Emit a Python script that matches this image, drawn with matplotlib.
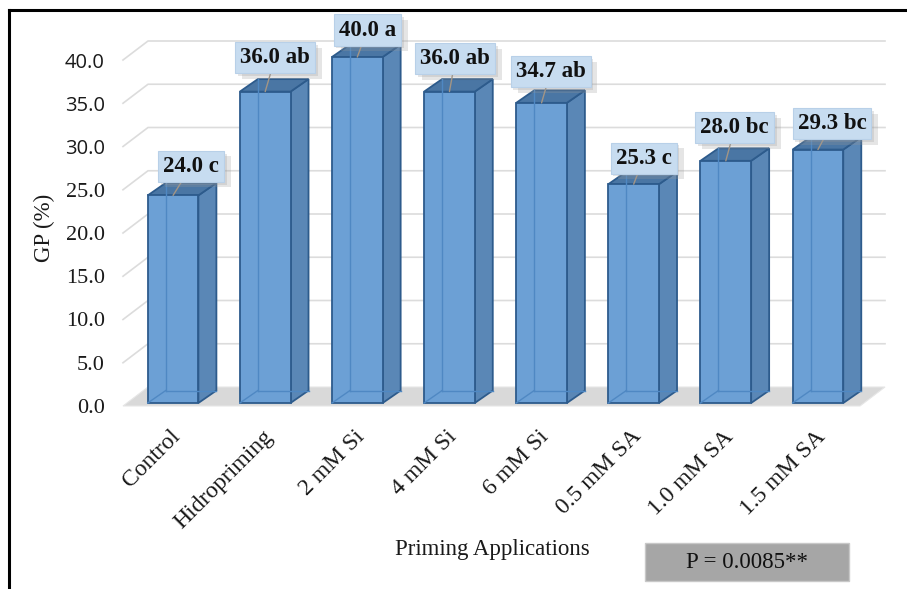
import matplotlib
matplotlib.use("Agg")
import matplotlib.pyplot as plt
import matplotlib.patheffects as pe
from matplotlib.patches import Polygon, Rectangle
from matplotlib.lines import Line2D
from matplotlib.transforms import ScaledTranslation
import numpy as np

# ---- data -------------------------------------------------------------
categories = ["Control", "Hidropriming", "2 mM Si", "4 mM Si", "6 mM Si",
              "0.5 mM SA", "1.0 mM SA", "1.5 mM SA"]
gp_values = [24.0, 36.0, 40.0, 36.0, 34.7, 25.3, 28.0, 29.3]
letters = ["c", "ab", "a", "ab", "ab", "c", "bc", "bc"]
y_ticks = [0, 5, 10, 15, 20, 25, 30, 35, 40]
p_text = "P = 0.0085**"

# ---- layout (pixels) --------------------------------------------------
W, H, DPI = 907, 589, 100
WALL = (25, 19)       # depth of floor / walls
BAR_SHIFT = (4, 3)    # bars sit slightly behind the front edge
BAR_DEPTH = (18, 12.5)
BAR_W = 0.55
label_dx = [18, 10, 10, 6, 9, 10, 9, 14]
label_dy = [29, 34, 27, 33, 31, 26, 33, 26]

SERIF = "Liberation Serif"
FRONT = "#6CA0D5"
SIDE = "#5A87B6"
TOP = "#4A76A4"
EDGE = "#2D5B8C"
INNER = "#4F88C3"
GRID = "#DCDCDC"
TEXT = "#1A1A1A"

fig = plt.figure(figsize=(W / DPI, H / DPI), dpi=DPI)
fig.patch.set_facecolor("white")
ax = fig.add_axes([123 / W, 1 - 406 / H, (860 - 123) / W, (406 - 60) / H])
ax.set_xlim(-0.5, 7.5)
ax.set_ylim(0, 40)
ax.set_facecolor("none")
for s in ax.spines.values():
    s.set_visible(False)


def shifted(x, y, dx=0.0, dy=0.0):
    """Data point moved by (dx, dy) display pixels, returned in data units."""
    p = ax.transData.transform((x, y)) + np.array([dx, dy])
    return ax.transData.inverted().transform(p)


# floor
floor = [shifted(-0.5, 0), shifted(7.5, 0),
         shifted(7.5, 0, *WALL), shifted(-0.5, 0, *WALL)]
ax.add_patch(Polygon(floor, closed=True, fc="#D9D9D9", ec="#E6E6E6", lw=0.8,
                     zorder=1, clip_on=False))

# gridlines on side wall and back wall
for t in y_ticks[1:]:
    a = shifted(-0.5, t)
    b = shifted(-0.5, t, *WALL)
    c = shifted(7.5, t, *WALL)
    ax.add_line(Line2D([a[0], b[0], c[0]], [a[1], b[1], c[1]], color=GRID,
                       lw=1.2, zorder=0.5, clip_on=False))

# 3-D bars
bx, by = BAR_SHIFT
dx, dy = BAR_SHIFT[0] + BAR_DEPTH[0], BAR_SHIFT[1] + BAR_DEPTH[1]
for i, v in enumerate(gp_values):
    x0, x1 = i - BAR_W / 2, i + BAR_W / 2
    A, B = shifted(x0, 0, bx, by), shifted(x1, 0, bx, by)
    C, D = shifted(x1, v, bx, by), shifted(x0, v, bx, by)
    A2, B2 = shifted(x0, 0, dx, dy), shifted(x1, 0, dx, dy)
    C2, D2 = shifted(x1, v, dx, dy), shifted(x0, v, dx, dy)
    ax.add_patch(Polygon([B, B2, C2, C], closed=True, fc=SIDE, ec=EDGE,
                         lw=1.3, zorder=3, clip_on=False))
    ax.add_patch(Polygon([D, C, C2, D2], closed=True, fc=TOP, ec=EDGE,
                         lw=1.3, zorder=3, clip_on=False))
    ax.add_patch(Polygon([A, B, C, D], closed=True, fc=FRONT, ec=EDGE,
                         lw=1.3, zorder=4, clip_on=False))
    # hidden back edges seen through the translucent faces
    for p, q in ((A, A2), (A2, D2), (A2, B2)):
        ax.add_line(Line2D([p[0], q[0]], [p[1], q[1]], color=INNER, lw=1.0,
                           zorder=5, clip_on=False))

# value labels with leader lines
for i, (v, l) in enumerate(zip(gp_values, letters)):
    tip = shifted(i, v, bx, by)
    ann = ax.annotate(f"{v:.1f} {l}", xy=tip,
                      xytext=(label_dx[i], label_dy[i]),
                      textcoords="offset pixels", ha="center", va="center",
                      fontsize=16.5, fontweight="bold", family=SERIF,
                      color="#111111",
                      bbox=dict(boxstyle="square,pad=0.22", fc="#C7DCF0",
                                ec="#B8D0E8", lw=0.8),
                      arrowprops=dict(arrowstyle="-", color="#A39585", lw=1.0,
                                      shrinkA=0, shrinkB=0),
                      zorder=10, annotation_clip=False)
    ann.get_bbox_patch().set_path_effects([
        pe.SimplePatchShadow(offset=(5, -4), shadow_rgbFace="#9A9A9A", alpha=0.25),
        pe.SimplePatchShadow(offset=(2, -2), shadow_rgbFace="#9A9A9A", alpha=0.25),
        pe.Normal()])

# axes ticks
ax.set_yticks(y_ticks)
ax.set_yticklabels([f"{t:.1f}" for t in y_ticks])
ax.tick_params(axis="y", length=0, pad=13)
for t, lab in zip(y_ticks, ax.get_yticklabels()):
    if t >= 30:
        lab.set_fontfamily("Open Sans")
        lab.set_fontsize(14.5)
    else:
        lab.set_fontfamily(SERIF)
        lab.set_fontsize(16)
    lab.set_color(TEXT)

ax.set_xticks(range(len(categories)))
ax.set_xticklabels(categories, rotation=45, ha="right", rotation_mode="anchor",
                   fontsize=17, family=SERIF, color=TEXT)
ax.tick_params(axis="x", length=0, pad=14.4)
shift = ScaledTranslation(1 / DPI, 0, fig.dpi_scale_trans)
for lab in ax.get_xticklabels():
    lab.set_transform(lab.get_transform() + shift)

# axis titles
fig.text(44 / W, 1 - 228 / H, "GP (%)", rotation=90, ha="center", va="center",
         fontsize=16.5, family=SERIF, color=TEXT)
fig.text(492 / W, 1 - 550 / H, "Priming Applications", ha="center",
         va="center", fontsize=16.5, family=SERIF, color=TEXT)

# significance box
fig.patches.append(Rectangle((645 / W, 1 - 581 / H), 204 / W, 38 / H,
                             transform=fig.transFigure, fc="#A6A6A6",
                             ec="#C8C8C8", lw=1.0))
fig.text(747 / W, 1 - 562 / H, p_text, ha="center", va="center",
         fontsize=16.5, family=SERIF, color="#111111")

# outer frame (top and left)
fig.add_artist(Line2D([9 / W, 1.0], [1 - 10 / H, 1 - 10 / H],
                      transform=fig.transFigure, color="black", lw=2.2))
fig.add_artist(Line2D([9 / W, 9 / W], [1 - 10 / H, 0.0],
                      transform=fig.transFigure, color="black", lw=2.2))

fig.savefig("out.png", dpi=DPI)
